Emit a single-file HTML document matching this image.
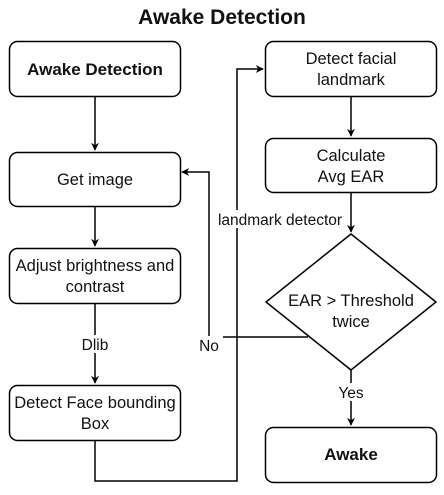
<!DOCTYPE html>
<html><head><style>
body{margin:0;background:#fff;}
svg text{font-family:"Liberation Sans",sans-serif;fill:#111;}
</style></head><body>
<svg width="444" height="490" viewBox="0 0 444 490" xmlns="http://www.w3.org/2000/svg">
<defs><marker id="a" viewBox="0 0 10 10" refX="9" refY="5" markerWidth="8" markerHeight="8" orient="auto" markerUnits="userSpaceOnUse"><path d="M0,0 L10,5 L0,10 L3,5 z" fill="#000"/></marker></defs>
<text x="222" y="24" font-size="21" font-weight="bold" text-anchor="middle">Awake Detection</text>
<g fill="#fff" stroke="#000" stroke-width="1.5">
<rect x="9.5" y="41.5" width="171" height="55" rx="8"/>
<rect x="9.5" y="152.5" width="171" height="54" rx="8"/>
<rect x="9.5" y="248.5" width="171" height="55" rx="8"/>
<rect x="9.5" y="385.5" width="171" height="55" rx="8"/>
<rect x="265.5" y="41.5" width="171" height="55" rx="8"/>
<rect x="265.5" y="138.5" width="171" height="54" rx="8"/>
<path d="M351,234 L436,302 L351,370 L266,302 Z"/>
<rect x="265.5" y="427.5" width="171" height="55" rx="8"/>
</g>
<g stroke="#000" stroke-width="1.5" fill="none">
<path d="M95,97 V150" marker-end="url(#a)"/>
<path d="M95,207 V246" marker-end="url(#a)"/>
<path d="M95,304 V383" marker-end="url(#a)"/>
<path d="M95,441 V481 H237 V69 H263" marker-end="url(#a)"/>
<path d="M351,97 V136" marker-end="url(#a)"/>
<path d="M351,193 V232" marker-end="url(#a)"/>
<path d="M351,370 V425" marker-end="url(#a)"/>
<path d="M308,337 H209 V172 H182" marker-end="url(#a)"/>
</g>
<g font-size="16.5" text-anchor="middle">
<text x="95" y="75" font-weight="bold" font-size="17">Awake Detection</text>
<text x="95" y="185">Get image</text>
<text x="95" y="271">Adjust brightness and</text>
<text x="95" y="292">contrast</text>
<text x="95" y="408">Detect Face bounding</text>
<text x="95" y="429">Box</text>
<text x="351" y="64">Detect facial</text>
<text x="351" y="85">landmark</text>
<text x="351" y="161">Calculate</text>
<text x="351" y="182">Avg EAR</text>
<text x="351" y="306">EAR &gt; Threshold</text>
<text x="351" y="327">twice</text>
<text x="351" y="460" font-weight="bold" font-size="17">Awake</text>
</g>
<g font-size="15.5" text-anchor="middle">
<rect x="80" y="335" width="30" height="18" fill="#fff"/>
<text x="95" y="350">Dlib</text>
<rect x="195" y="336" width="28" height="18" fill="#fff"/>
<text x="209" y="351">No</text>
<rect x="216" y="210" width="128" height="18" fill="#fff"/>
<text x="280" y="225">landmark detector</text>
<rect x="336" y="383" width="30" height="18" fill="#fff"/>
<text x="351" y="398">Yes</text>
</g>
</svg>
</body></html>
